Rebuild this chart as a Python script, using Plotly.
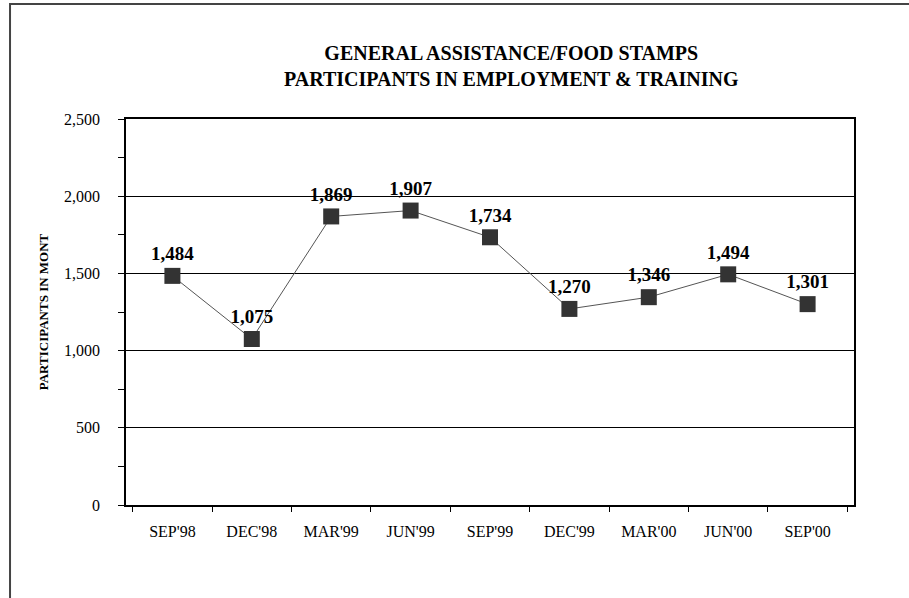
import plotly.graph_objects as go

# quarterly data
quarters = ["SEP'98", "DEC'98", "MAR'99", "JUN'99", "SEP'99", "DEC'99", "MAR'00", "JUN'00", "SEP'00"]
participants = [1484, 1075, 1869, 1907, 1734, 1270, 1346, 1494, 1301]
labels = [f"{v:,}" for v in participants]

serif = "Liberation Serif, Times New Roman, serif"

fig = go.Figure()
fig.add_trace(go.Scatter(
    x=quarters, y=participants, text=labels,
    mode="lines+markers+text",
    line=dict(color="#555555", width=1),
    marker=dict(symbol="square", size=16, color="#333333"),
    textposition="top center",
    textfont=dict(family=serif, size=19, color="black", weight="bold"),
    cliponaxis=False, showlegend=False,
))

fig.update_layout(
    width=909, height=598,
    margin=dict(l=126, r=55, t=119, b=93),
    paper_bgcolor="white", plot_bgcolor="white",
    font=dict(family=serif, color="black"),
    annotations=[dict(
        text="<b>GENERAL ASSISTANCE/FOOD STAMPS<br>PARTICIPANTS IN EMPLOYMENT &amp; TRAINING</b>",
        xref="paper", yref="paper", x=0.529, y=1.1386, xanchor="center", yanchor="middle",
        showarrow=False, font=dict(family=serif, size=20, color="black"),
    )],
    # outer frame around the whole chart
    shapes=[dict(type="rect", xref="paper", yref="paper",
                 x0=-0.1593, x1=1.2, y0=-0.3, y1=1.298,
                 line=dict(color="#444444", width=2))],
)

fig.update_xaxes(
    showline=True, linecolor="black", linewidth=1.5, mirror=True,
    ticks="outside", ticklen=5, tickcolor="black", tickson="boundaries",
    ticklabelstandoff=11,
    tickfont=dict(family=serif, size=16), showgrid=False,
)
fig.update_yaxes(
    range=[0, 2500], dtick=500, tickformat=",d",
    showline=True, linecolor="black", linewidth=1.5, mirror=True,
    ticks="outside", ticklen=6, tickcolor="black", ticklabelstandoff=15,
    minor=dict(dtick=250, ticks="outside", ticklen=6, tickcolor="black", showgrid=False),
    showgrid=True, gridcolor="black", gridwidth=1, zeroline=False,
    tickfont=dict(family=serif, size=16),
    title=dict(text="<b>PARTICIPANTS IN MONT</b>", font=dict(family=serif, size=13), standoff=12),
)

# drop the default 8px page margin so the figure sits at the window origin
fig.write_html("out.html", config={"displayModeBar": False},
               post_script="document.body.style.margin='0';")
